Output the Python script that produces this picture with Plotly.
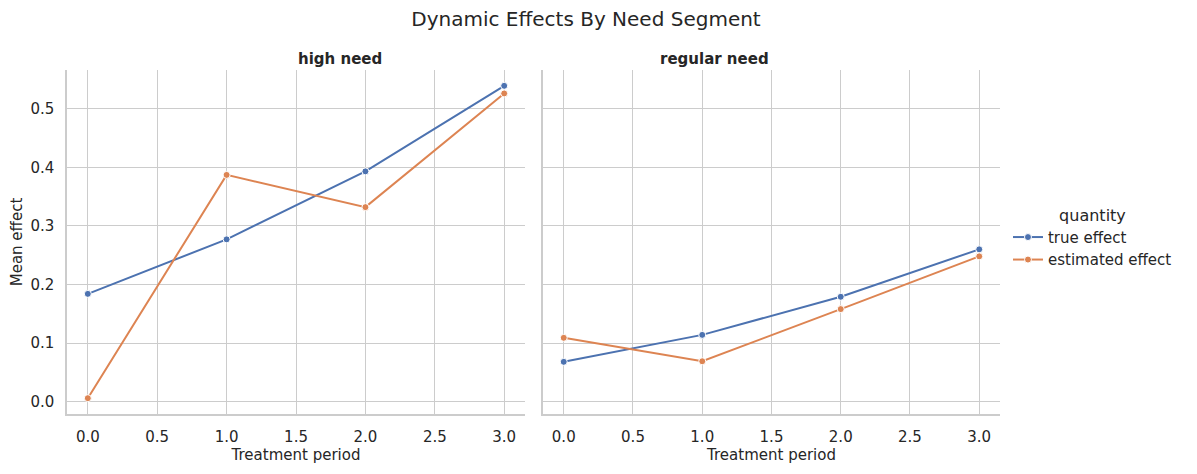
import plotly.graph_objects as go

periods = [0, 1, 2, 3]
segments = ["high need", "regular need"]
quantities = ["true effect", "estimated effect"]
colors = {"true effect": "#4c72b0", "estimated effect": "#dd8452"}

high_true = [0.184, 0.277, 0.393, 0.539]
high_est = [0.006, 0.387, 0.332, 0.526]
reg_true = [0.068, 0.114, 0.179, 0.260]
reg_est = [0.109, 0.069, 0.158, 0.248]

data = {
    "high need": {"true effect": high_true, "estimated effect": high_est},
    "regular need": {"true effect": reg_true, "estimated effect": reg_est},
}

# page body has an 8px default margin; work in figure coordinates
OFF = 8
W, H = 1197 - 2 * OFF, 474 - 2 * OFF
L = 67 - OFF
T = 70 - OFF
R = W - (1002 - OFF)
B = H - (414 - OFF)
PW, PH = W - L - R, H - T - B
FONT = "DejaVu Sans"
TXT = "#262626"
GRID = "#cccccc"

fig = go.Figure()
for i, seg in enumerate(segments):
    xa = "x" if i == 0 else "x2"
    ya = "y" if i == 0 else "y2"
    for q in quantities:
        fig.add_trace(go.Scatter(
            x=periods, y=data[seg][q], mode="lines+markers", name=q,
            legendgroup=q, showlegend=(i == 0),
            line=dict(color=colors[q], width=2),
            marker=dict(color=colors[q], size=7, line=dict(color="white", width=1)),
            xaxis=xa, yaxis=ya,
        ))

xd1 = [0, (526 - 67) / PW]
xd2 = [(544 - 67) / PW, 1]

axis_common = dict(
    showgrid=True, gridcolor=GRID, gridwidth=1,
    showline=True, linecolor=GRID, linewidth=1.5,
    zeroline=False, ticks="", automargin=False,
    tickfont=dict(family=FONT, size=15, color=TXT),
)
xtitle = dict(text="Treatment period", font=dict(family=FONT, size=15, color=TXT), standoff=5)
xticks = [0, 0.5, 1, 1.5, 2, 2.5, 3]
yticks = [0, 0.1, 0.2, 0.3, 0.4, 0.5]

def py(screen_y):
    # screen pixel y -> paper fraction
    return (H - B - (screen_y - OFF)) / PH

def px(screen_x):
    return (screen_x - OFF - L) / PW

fig.update_layout(
    width=W, height=H,
    margin=dict(l=L, r=R, t=T, b=B),
    paper_bgcolor="white", plot_bgcolor="white",
    font=dict(family=FONT, color=TXT),
    xaxis=dict(domain=xd1, range=[-0.15, 3.15], tickvals=xticks, tickformat=".1f",
               anchor="y", title=xtitle, ticklabelstandoff=8, **axis_common),
    xaxis2=dict(domain=xd2, range=[-0.15, 3.15], tickvals=xticks, tickformat=".1f",
                anchor="y2", title=xtitle, ticklabelstandoff=8, **axis_common),
    yaxis=dict(domain=[0, 1], range=[-0.021, 0.566], tickvals=yticks, tickformat=".1f",
               anchor="x", ticklabelstandoff=8,
               title=dict(text="Mean effect", font=dict(family=FONT, size=15, color=TXT), standoff=10),
               **axis_common),
    yaxis2=dict(domain=[0, 1], range=[-0.021, 0.566], tickvals=yticks,
                showticklabels=False, anchor="x2", matches="y", **axis_common),
    legend=dict(
        x=px(1010), y=py(238), xanchor="left", yanchor="middle",
        font=dict(family=FONT, size=15, color=TXT),
        title=dict(text="quantity", side="top center", font=dict(family=FONT, size=16, color=TXT)),
        bgcolor="rgba(0,0,0,0)", tracegroupgap=0,
    ),
    title=dict(text="Dynamic Effects By Need Segment", x=(586 - OFF) / W, xanchor="center",
               y=1 - (19 - OFF) / H, yanchor="middle",
               font=dict(family=FONT, size=20, color=TXT)),
    annotations=[
        dict(text="<b>high need</b>", x=(xd1[0] + xd1[1]) / 2, y=py(59),
             xref="paper", yref="paper", showarrow=False, yanchor="middle",
             font=dict(family=FONT, size=15, color=TXT)),
        dict(text="<b>regular need</b>", x=(xd2[0] + xd2[1]) / 2, y=py(59),
             xref="paper", yref="paper", showarrow=False, yanchor="middle",
             font=dict(family=FONT, size=15, color=TXT)),
    ],
)

fig.write_html("out.html")
